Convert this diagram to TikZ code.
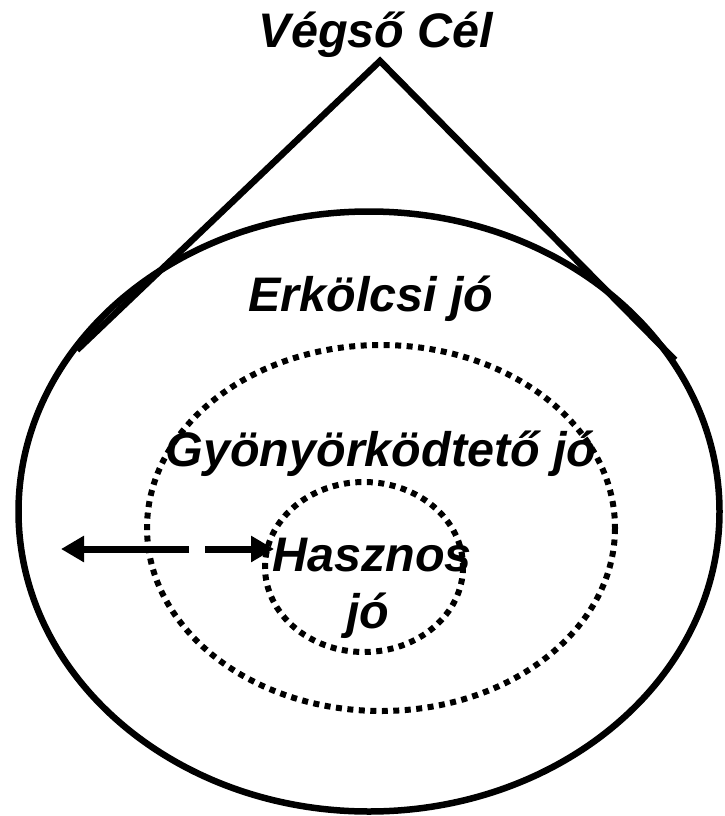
\documentclass[tikz,border=0pt]{standalone}
\usepackage{fontspec}
\setmainfont{Liberation Sans}
\usetikzlibrary{arrows.meta}
\begin{document}
\begin{tikzpicture}[x=1pt,y=-1pt,
  solidline/.style={line width=6.5pt,black},
  dotline/.style={line width=6pt,black,dash pattern=on 6pt off 5.5pt},
  lbl/.style={anchor=base,inner sep=0pt,font=\fontsize{48.5}{58}\selectfont\bfseries\itshape},
  arr/.style={line width=7pt,-{Triangle[length=23pt,width=25pt]}}]
\useasboundingbox (0,0) rectangle (724,816);
% outer ellipse
\draw[solidline] (369,511.5) ellipse [x radius=350.5, y radius=300];
% cone
\coordinate (apex) at (380,61);
\coordinate (tl) at (77,350);
\coordinate (tr) at (675,360);
\draw[solidline,line join=miter] (tl) -- (apex) -- (tr);
% dotted ellipses
\draw[dotline] (381,528) ellipse [x radius=234, y radius=183];
\draw[dotline] (364,567) ellipse [x radius=99, y radius=85];
% labels
\node[lbl] (veg) at (376,48) {Végső Cél};
\node[lbl] (erk) at (371,311) {Erkölcsi jó};
\node[lbl] (gyo) at (381,466) {Gyönyörködtető jó};
\node[lbl] (has) at (372,571) {Hasznos};
\node[lbl] (jo) at (368,628) {jó};
% arrow
\coordinate (al) at (61,549);
\coordinate (am1) at (189,549);
\coordinate (am2) at (205,549);
\coordinate (ar) at (274,549);
\draw[arr] (am1) -- (al);
\draw[arr] (am2) -- (ar);
\end{tikzpicture}
\end{document}
